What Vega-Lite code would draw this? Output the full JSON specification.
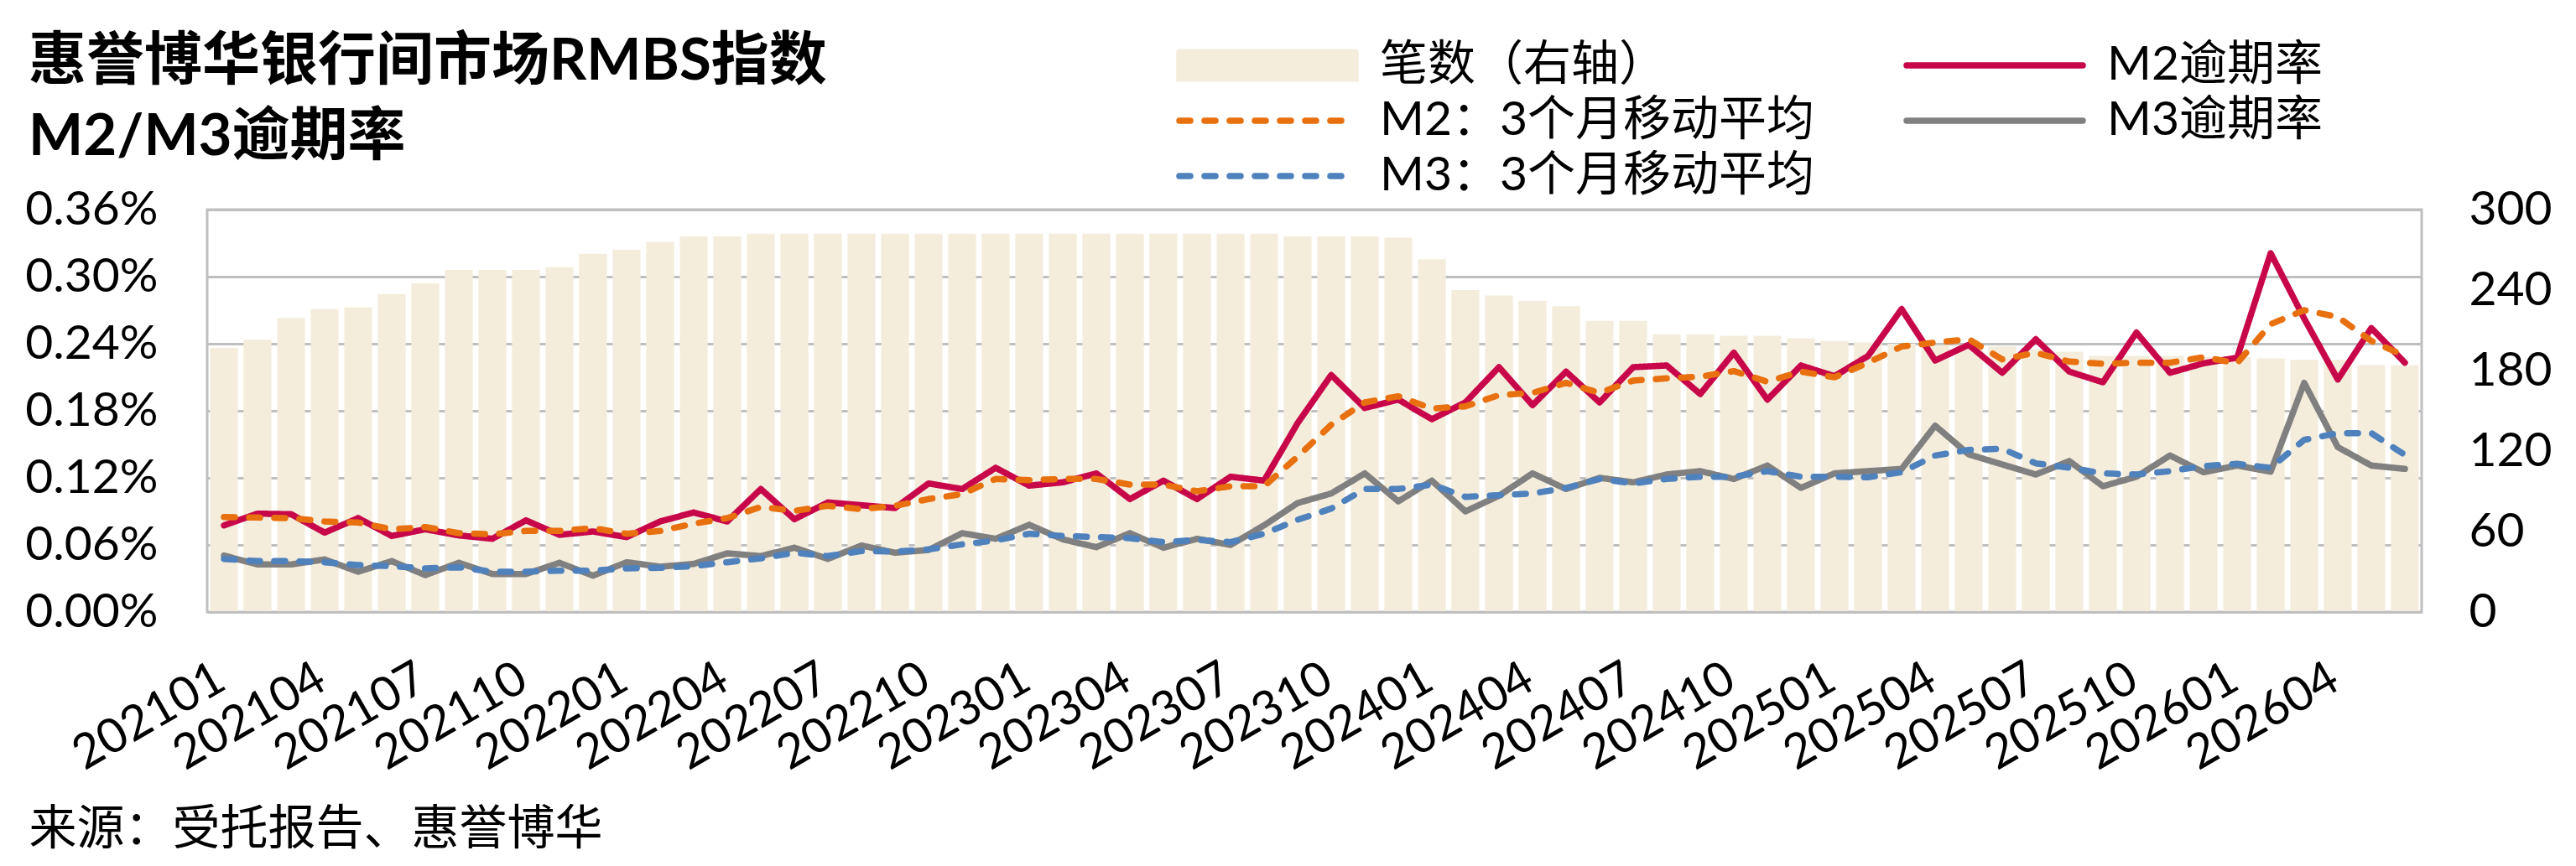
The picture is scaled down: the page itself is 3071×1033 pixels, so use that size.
{
  "$schema": "https://vega.github.io/schema/vega-lite/v6.json",
  "width": 2640,
  "height": 480,
  "autosize": {"type": "none"},
  "padding": {"left": 247, "top": 250, "right": 184, "bottom": 303},
  "background": "white",
  "config": {
    "font": "Lato, 'Noto Sans CJK SC'",
    "view": {"stroke": "#BFBFBF", "strokeWidth": 3},
    "axis": {
      "labelFont": "Lato, 'Noto Sans CJK SC'",
      "labelFontSize": 57,
      "labelColor": "#000000",
      "labelLimit": 400,
      "ticks": false,
      "domain": false,
      "labelFlush": false,
      "labelOverlap": false
    }
  },
  "title": {
    "text": ["惠誉博华银行间市场RMBS指数", "M2/M3逾期率"],
    "anchor": "start",
    "frame": "group",
    "dx": -213,
    "dy": 174,
    "offset": 25,
    "font": "Lato, 'Noto Sans CJK SC'",
    "fontSize": 69,
    "fontWeight": "bold",
    "lineHeight": 90,
    "color": "#000000"
  },
  "data": {
    "values": [
      {"month": "202101", "count": 197, "m2": 0.0775, "m2ma": 0.085, "m3": 0.0505, "m3ma": 0.0475},
      {"month": "202102", "count": 203, "m2": 0.088, "m2ma": 0.0845, "m3": 0.0425, "m3ma": 0.0455},
      {"month": "202103", "count": 219, "m2": 0.0875, "m2ma": 0.084, "m3": 0.0425, "m3ma": 0.0455},
      {"month": "202104", "count": 226, "m2": 0.071, "m2ma": 0.081, "m3": 0.047, "m3ma": 0.0445},
      {"month": "202105", "count": 227, "m2": 0.084, "m2ma": 0.080, "m3": 0.036, "m3ma": 0.042},
      {"month": "202106", "count": 237, "m2": 0.068, "m2ma": 0.074, "m3": 0.0455, "m3ma": 0.041},
      {"month": "202107", "count": 245, "m2": 0.074, "m2ma": 0.076, "m3": 0.033, "m3ma": 0.039},
      {"month": "202108", "count": 255, "m2": 0.0685, "m2ma": 0.0705, "m3": 0.044, "m3ma": 0.040},
      {"month": "202109", "count": 255, "m2": 0.0655, "m2ma": 0.0695, "m3": 0.034, "m3ma": 0.036},
      {"month": "202110", "count": 255, "m2": 0.082, "m2ma": 0.0725, "m3": 0.034, "m3ma": 0.036},
      {"month": "202111", "count": 257, "m2": 0.069, "m2ma": 0.0725, "m3": 0.044, "m3ma": 0.037},
      {"month": "202112", "count": 267, "m2": 0.072, "m2ma": 0.075, "m3": 0.0325, "m3ma": 0.037},
      {"month": "202201", "count": 270, "m2": 0.067, "m2ma": 0.070, "m3": 0.0445, "m3ma": 0.039},
      {"month": "202202", "count": 276, "m2": 0.081, "m2ma": 0.0725, "m3": 0.0405, "m3ma": 0.0395},
      {"month": "202203", "count": 280, "m2": 0.089, "m2ma": 0.079, "m3": 0.043, "m3ma": 0.041},
      {"month": "202204", "count": 280, "m2": 0.081, "m2ma": 0.084, "m3": 0.0525, "m3ma": 0.0445},
      {"month": "202205", "count": 282, "m2": 0.110, "m2ma": 0.094, "m3": 0.050, "m3ma": 0.048},
      {"month": "202206", "count": 282, "m2": 0.083, "m2ma": 0.0905, "m3": 0.0575, "m3ma": 0.053},
      {"month": "202207", "count": 282, "m2": 0.098, "m2ma": 0.095, "m3": 0.0475, "m3ma": 0.050},
      {"month": "202208", "count": 282, "m2": 0.0955, "m2ma": 0.092, "m3": 0.0595, "m3ma": 0.0545},
      {"month": "202209", "count": 282, "m2": 0.093, "m2ma": 0.095, "m3": 0.053, "m3ma": 0.054},
      {"month": "202210", "count": 282, "m2": 0.115, "m2ma": 0.101, "m3": 0.0555, "m3ma": 0.056},
      {"month": "202211", "count": 282, "m2": 0.110, "m2ma": 0.1055, "m3": 0.0705, "m3ma": 0.0605},
      {"month": "202212", "count": 282, "m2": 0.129, "m2ma": 0.119, "m3": 0.0655, "m3ma": 0.064},
      {"month": "202301", "count": 282, "m2": 0.113, "m2ma": 0.118, "m3": 0.078, "m3ma": 0.070},
      {"month": "202302", "count": 282, "m2": 0.116, "m2ma": 0.119, "m3": 0.065, "m3ma": 0.068},
      {"month": "202303", "count": 282, "m2": 0.124, "m2ma": 0.119, "m3": 0.058, "m3ma": 0.067},
      {"month": "202304", "count": 282, "m2": 0.101, "m2ma": 0.114, "m3": 0.0705, "m3ma": 0.066},
      {"month": "202305", "count": 282, "m2": 0.1175, "m2ma": 0.114, "m3": 0.0575, "m3ma": 0.0625},
      {"month": "202306", "count": 282, "m2": 0.101, "m2ma": 0.108, "m3": 0.0655, "m3ma": 0.0645},
      {"month": "202307", "count": 282, "m2": 0.121, "m2ma": 0.1125, "m3": 0.060, "m3ma": 0.0625},
      {"month": "202308", "count": 282, "m2": 0.1175, "m2ma": 0.1125, "m3": 0.0775, "m3ma": 0.070},
      {"month": "202309", "count": 280, "m2": 0.169, "m2ma": 0.139, "m3": 0.0975, "m3ma": 0.0825},
      {"month": "202310", "count": 280, "m2": 0.212, "m2ma": 0.1675, "m3": 0.106, "m3ma": 0.0925},
      {"month": "202311", "count": 280, "m2": 0.1825, "m2ma": 0.1875, "m3": 0.124, "m3ma": 0.110},
      {"month": "202312", "count": 279, "m2": 0.190, "m2ma": 0.193, "m3": 0.099, "m3ma": 0.110},
      {"month": "202401", "count": 263, "m2": 0.1725, "m2ma": 0.182, "m3": 0.1175, "m3ma": 0.114},
      {"month": "202402", "count": 240, "m2": 0.1875, "m2ma": 0.184, "m3": 0.090, "m3ma": 0.103},
      {"month": "202403", "count": 236, "m2": 0.219, "m2ma": 0.194, "m3": 0.104, "m3ma": 0.1045},
      {"month": "202404", "count": 232, "m2": 0.185, "m2ma": 0.196, "m3": 0.124, "m3ma": 0.106},
      {"month": "202405", "count": 228, "m2": 0.215, "m2ma": 0.205, "m3": 0.110, "m3ma": 0.111},
      {"month": "202406", "count": 217, "m2": 0.1875, "m2ma": 0.196, "m3": 0.120, "m3ma": 0.119},
      {"month": "202407", "count": 217, "m2": 0.219, "m2ma": 0.207, "m3": 0.116, "m3ma": 0.115},
      {"month": "202408", "count": 207, "m2": 0.2205, "m2ma": 0.209, "m3": 0.123, "m3ma": 0.119},
      {"month": "202409", "count": 207, "m2": 0.195, "m2ma": 0.2105, "m3": 0.126, "m3ma": 0.121},
      {"month": "202410", "count": 206, "m2": 0.232, "m2ma": 0.2155, "m3": 0.119, "m3ma": 0.121},
      {"month": "202411", "count": 206, "m2": 0.190, "m2ma": 0.206, "m3": 0.131, "m3ma": 0.126},
      {"month": "202412", "count": 204, "m2": 0.2205, "m2ma": 0.215, "m3": 0.111, "m3ma": 0.121},
      {"month": "202501", "count": 202, "m2": 0.211, "m2ma": 0.210, "m3": 0.124, "m3ma": 0.121},
      {"month": "202502", "count": 201, "m2": 0.229, "m2ma": 0.223, "m3": 0.126, "m3ma": 0.1205},
      {"month": "202503", "count": 200, "m2": 0.271, "m2ma": 0.2375, "m3": 0.128, "m3ma": 0.125},
      {"month": "202504", "count": 199, "m2": 0.225, "m2ma": 0.241, "m3": 0.1667, "m3ma": 0.140},
      {"month": "202505", "count": 199, "m2": 0.239, "m2ma": 0.244, "m3": 0.141, "m3ma": 0.145},
      {"month": "202506", "count": 198, "m2": 0.214, "m2ma": 0.226, "m3": 0.132, "m3ma": 0.146},
      {"month": "202507", "count": 196, "m2": 0.244, "m2ma": 0.232, "m3": 0.123, "m3ma": 0.133},
      {"month": "202508", "count": 194, "m2": 0.215, "m2ma": 0.224, "m3": 0.135, "m3ma": 0.129},
      {"month": "202509", "count": 191, "m2": 0.2055, "m2ma": 0.222, "m3": 0.1125, "m3ma": 0.124},
      {"month": "202510", "count": 191, "m2": 0.250, "m2ma": 0.223, "m3": 0.121, "m3ma": 0.123},
      {"month": "202511", "count": 191, "m2": 0.214, "m2ma": 0.223, "m3": 0.140, "m3ma": 0.126},
      {"month": "202512", "count": 190, "m2": 0.2225, "m2ma": 0.228, "m3": 0.125, "m3ma": 0.1305},
      {"month": "202601", "count": 190, "m2": 0.2275, "m2ma": 0.2225, "m3": 0.131, "m3ma": 0.1325},
      {"month": "202602", "count": 189, "m2": 0.321, "m2ma": 0.2575, "m3": 0.1255, "m3ma": 0.129},
      {"month": "202603", "count": 188, "m2": 0.2625, "m2ma": 0.270, "m3": 0.205, "m3ma": 0.154},
      {"month": "202604", "count": 188, "m2": 0.208, "m2ma": 0.264, "m3": 0.1475, "m3ma": 0.160},
      {"month": "202605", "count": 184, "m2": 0.254, "m2ma": 0.2425, "m3": 0.131, "m3ma": 0.160},
      {"month": "202606", "count": 184, "m2": 0.223, "m2ma": 0.229, "m3": 0.128, "m3ma": 0.1405}
    ]
  },
  "encoding": {
    "x": {
      "field": "month",
      "type": "nominal",
      "sort": null,
      "scale": {"paddingInner": 0.17, "paddingOuter": 0.085},
      "axis": {
        "values": ["202101", "202104", "202107", "202110", "202201", "202204", "202207", "202210", "202301", "202304", "202307", "202310", "202401", "202404", "202407", "202410", "202501", "202504", "202507", "202510", "202601", "202604"],
        "labelAngle": -30,
        "labelAlign": "right",
        "labelBaseline": "middle",
        "labelPadding": 75,
        "labelOffset": -3,
        "domain": true,
        "domainColor": "#BFBFBF",
        "domainWidth": 3,
        "grid": false,
        "zindex": 1,
        "title": "来源：受托报告、惠誉博华",
        "titleFont": "Lato, 'Noto Sans CJK SC'",
        "titleFontSize": 57,
        "titleFontWeight": "normal",
        "titleColor": "#000000",
        "titleAnchor": "start",
        "titleAlign": "left",
        "titleBaseline": "alphabetic",
        "titleX": -213,
        "titleY": 276
      }
    }
  },
  "layer": [
    {
      "mark": {"type": "bar"},
      "encoding": {
        "y": {
          "field": "count",
          "type": "quantitative",
          "scale": {"domain": [0, 300]},
          "axis": {
            "orient": "right",
            "values": [0, 60, 120, 180, 240, 300],
            "grid": false,
            "labelPadding": 56,
            "title": null
          }
        },
        "color": {
          "datum": "bars",
          "type": "nominal",
          "scale": {
            "domain": ["bars", "m2ma", "m3ma", "m2", "m3"],
            "range": ["#F4EDDC", "#E8700E", "#4F81BD", "#C8074A", "#808080"]
          }
        }
      }
    },
    {
      "transform": [{"fold": ["m2", "m2ma", "m3", "m3ma"], "as": ["key", "rate"]}],
      "mark": {"type": "line", "strokeWidth": 7.5, "strokeCap": "round", "strokeJoin": "round"},
      "encoding": {
        "y": {
          "field": "rate",
          "type": "quantitative",
          "scale": {"domain": [0, 0.36]},
          "axis": {
            "orient": "left",
            "values": [0, 0.06, 0.12, 0.18, 0.24, 0.3, 0.36],
            "labelExpr": "format(datum.value, '.2f') + '%'",
            "grid": true,
            "gridColor": "#BFBFBF",
            "gridWidth": 3,
            "labelPadding": 59,
            "zindex": 0,
            "title": null
          }
        },
        "color": {
          "field": "key",
          "type": "nominal",
          "scale": {
            "domain": ["bars", "m2ma", "m3ma", "m2", "m3"],
            "range": ["#F4EDDC", "#E8700E", "#4F81BD", "#C8074A", "#808080"]
          },
          "legend": {
            "orient": "none",
            "legendX": 1155,
            "legendY": -200,
            "title": null,
            "columns": 2,
            "padding": 0,
            "clipHeight": 56,
            "rowPadding": 9,
            "columnPadding": 105,
            "symbolSize": 44100,
            "symbolStrokeWidth": 7.5,
            "labelOffset": 25,
            "labelFont": "Lato, 'Noto Sans CJK SC'",
            "labelFontSize": 57,
            "labelColor": "#000000",
            "labelLimit": 1000,
            "labelExpr": "{'bars': '笔数（右轴）', 'm2': 'M2逾期率', 'm2ma': 'M2：3个月移动平均', 'm3': 'M3逾期率', 'm3ma': 'M3：3个月移动平均'}[datum.value]",
            "encode": {
              "symbols": {
                "update": {
                  "shape": {"signal": "datum.value === 'bars' ? 'M-1,-0.15H1V0.15H-1Z' : 'stroke'"},
                  "fill": {"signal": "datum.value === 'bars' ? '#F4EDDC' : 'transparent'"},
                  "stroke": {"signal": "datum.value === 'bars' ? 'transparent' : datum.value === 'm2' ? '#C8074A' : datum.value === 'm2ma' ? '#E8700E' : datum.value === 'm3' ? '#808080' : '#4F81BD'"},
                  "strokeWidth": {"value": 7.5},
                  "strokeDash": {"signal": "indexof(['m2ma', 'm3ma'], datum.value) >= 0 ? [13, 17] : [1, 0]"},
                  "strokeCap": {"value": "round"},
                  "opacity": {"value": 1}
                }
              }
            }
          }
        },
        "strokeDash": {
          "field": "key",
          "type": "nominal",
          "scale": {
            "domain": ["m2", "m2ma", "m3", "m3ma"],
            "range": [[1, 0], [13, 17], [1, 0], [13, 17]]
          },
          "legend": null
        }
      }
    }
  ],
  "resolve": {"scale": {"y": "independent"}}
}
